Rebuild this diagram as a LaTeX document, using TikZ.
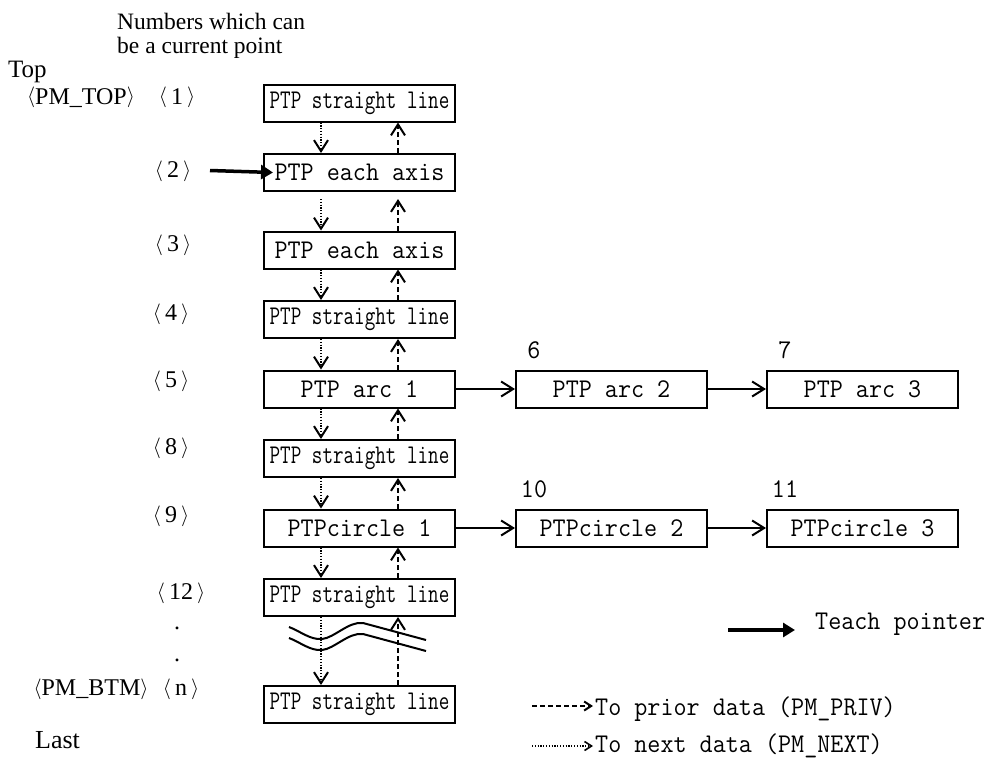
\documentclass[tikz,border=0pt]{standalone}
\usepackage{fontspec}
\setmainfont{Liberation Serif}
\newfontfamily\ptpfont[FakeStretch=0.94]{Latin Modern Mono}
\newfontfamily\ptpnarrow[FakeStretch=0.76]{Latin Modern Mono}
\usetikzlibrary{positioning}
\usetikzlibrary{arrows.meta}

\newcommand{\lang}{\raisebox{1.5pt}{\fontsize{20}{22}\selectfont$\langle$}}
\newcommand{\rang}{\raisebox{1.5pt}{\fontsize{20}{22}\selectfont$\rangle$}}
\newcommand{\ang}[1]{\lang\,#1\,\rang}

\begin{document}
\begin{tikzpicture}[x=1pt, y=-1pt,
			node distance = 30.5pt,
			rec/.style = {draw, line width=2pt, inner sep=0pt,
				minimum width=191pt, minimum height=37pt,
				font=\fontsize{27}{30}\ptpfont},
			slim/.style = {font=\fontsize{27}{30}\ptpnarrow},
			tag/.style = {inner sep=0pt, font=\fontsize{24}{28}\selectfont},
			num/.style = {inner sep=0pt, font=\fontsize{27}{30}\ptpfont},
			nxt/.style = {line width=1.4pt, dash pattern=on 1.2pt off 1.6pt,
				-{Straight Barb[length=11pt, width=14pt, line width=2pt]}},
			prv/.style = {line width=2pt, dash pattern=on 5pt off 3pt,
				-{Straight Barb[length=11pt, width=14pt]}},
			link/.style = {line width=2pt, -{Straight Barb[length=12pt, width=15pt]}},
			teach/.style = {line width=3.5pt, -{Triangle[length=12pt, width=14pt]}},
			brk/.style = {line width=2pt}
		]
			\useasboundingbox (0,0) rectangle (999,758);

			% heading and left labels
			\node (head1) [tag, anchor=base west, font=\fontsize{23.5}{28}\selectfont] at (117,29) {Numbers which can};
			\node (head2) [tag, anchor=base west, font=\fontsize{23.5}{28}\selectfont] at (117,53) {be a current point};
			\node (top) [tag, anchor=base west, font=\fontsize{25}{30}\selectfont] at (8,77) {Top};
			\node (pmtop) [tag] at (81,97.5) {\lang PM\_TOP\rang};
			\node (t1) [tag] at (177,97.5) {\ang{1}};
			\node (t2) [tag] at (173,171) {\ang{2}};
			\node (t3) [tag] at (173,245) {\ang{3}};
			\node (t4) [tag] at (171,314) {\ang{4}};
			\node (t5) [tag] at (171,381) {\ang{5}};
			\node (t8) [tag] at (171,448) {\ang{8}};
			\node (t9) [tag] at (171,516) {\ang{9}};
			\node (t12) [tag] at (181,593) {\ang{12}};
			\node (dot1) [tag] at (177,628) {.};
			\node (dot2) [tag] at (177,660) {.};
			\node (tn) [tag] at (181,689) {\ang{n}};
			\node (pmbtm) [tag] at (91,689) {\lang PM\_BTM\rang};
			\node (last) [tag, anchor=west, font=\fontsize{26}{30}\selectfont] at (35,740) {Last};

			% the chain of teach points
			\node (s1) [rec, slim] at (359.5,103) {PTP straight line};
			\node (s2) [rec, below = of s1] {PTP each axis};
			\node (s3) [rec, below = 38.5pt of s2] {PTP each axis};
			\node (s4) [rec, slim, below = of s3] {PTP straight line};
			\node (s5) [rec, below = of s4] {PTP arc 1};
			\node (s8) [rec, slim, below = of s5] {PTP straight line};
			\node (s9) [rec, below = of s8] {PTPcircle 1};
			\node (s12) [rec, slim, below = of s9] {PTP straight line};
			\node (sn) [rec, slim, below = 68pt of s12] {PTP straight line};

			\node (a2) [rec, right = 59pt of s5] {PTP arc 2};
			\node (a3) [rec, right = 58pt of a2] {PTP arc 3};
			\node (c2) [rec, right = 59pt of s9] {PTPcircle 2};
			\node (c3) [rec, right = 58pt of c2] {PTPcircle 3};
			\node (n6) [num] at ([shift={(19,-19)}]a2.north west) {6};
			\node (n7) [num] at ([shift={(19,-19)}]a3.north west) {7};
			\node (n10) [num] at ([shift={(19,-19)}]c2.north west) {10};
			\node (n11) [num] at ([shift={(19,-19)}]c3.north west) {11};

			\path [link]
			(s5) edge (a2)
			(a2) edge (a3)
			(s9) edge (c2)
			(c2) edge (c3);

			% next / prior pointers
			\foreach \a/\b in {s1/s2, s3/s4, s4/s5, s5/s8, s8/s9, s9/s12, s12/sn} {
				\draw [nxt] ([xshift=-38.5pt]\a.south) -- ([xshift=-38.5pt]\b.north);
				\draw [prv] ([xshift=38.5pt]\b.north) -- ([xshift=38.5pt]\a.south);
			}
			\draw [nxt, shorten <=7pt] ([xshift=-38.5pt]s2.south) -- ([xshift=-38.5pt]s3.north);
			\draw [prv, shorten >=7pt] ([xshift=38.5pt]s3.north) -- ([xshift=38.5pt]s2.south);

			% break mark
			\foreach \dy in {0,11}
			\draw [brk, shift={(0,\dy)}] (289,627) .. controls (300,631) and (310,640) .. (322,639)
				.. controls (334,638) and (349,621) .. (363,623) -- (426,640);

			% teach pointer
			\coordinate (tp) at (210,170.5);
			\draw [teach] (tp) -- ([xshift=10pt]s2.west);

			% legend
			\node (lteach) [num, anchor=base west] at (815,629) {Teach pointer};
			\coordinate (lteach0) at (728,630);
			\draw [teach, shorten >=20pt] (lteach0) -- (lteach0 -| lteach.west);
			\node (lprv) [num, anchor=base west] at (595,715) {To prior data (PM\_PRIV)};
			\coordinate (lprv0) at (532,706);
			\draw [prv, -{Straight Barb[length=7pt, width=9pt]}, shorten >=2pt] (lprv0) -- (lprv0 -| lprv.west);
			\node (lnxt) [num, anchor=base west] at (595,752) {To next data (PM\_NEXT)};
			\coordinate (lnxt0) at (532,746);
			\draw [nxt, -{Straight Barb[length=7pt, width=9pt, line width=1.6pt]}, shorten >=2pt] (lnxt0) -- (lnxt0 -| lnxt.west);
		\end{tikzpicture}
\end{document}
